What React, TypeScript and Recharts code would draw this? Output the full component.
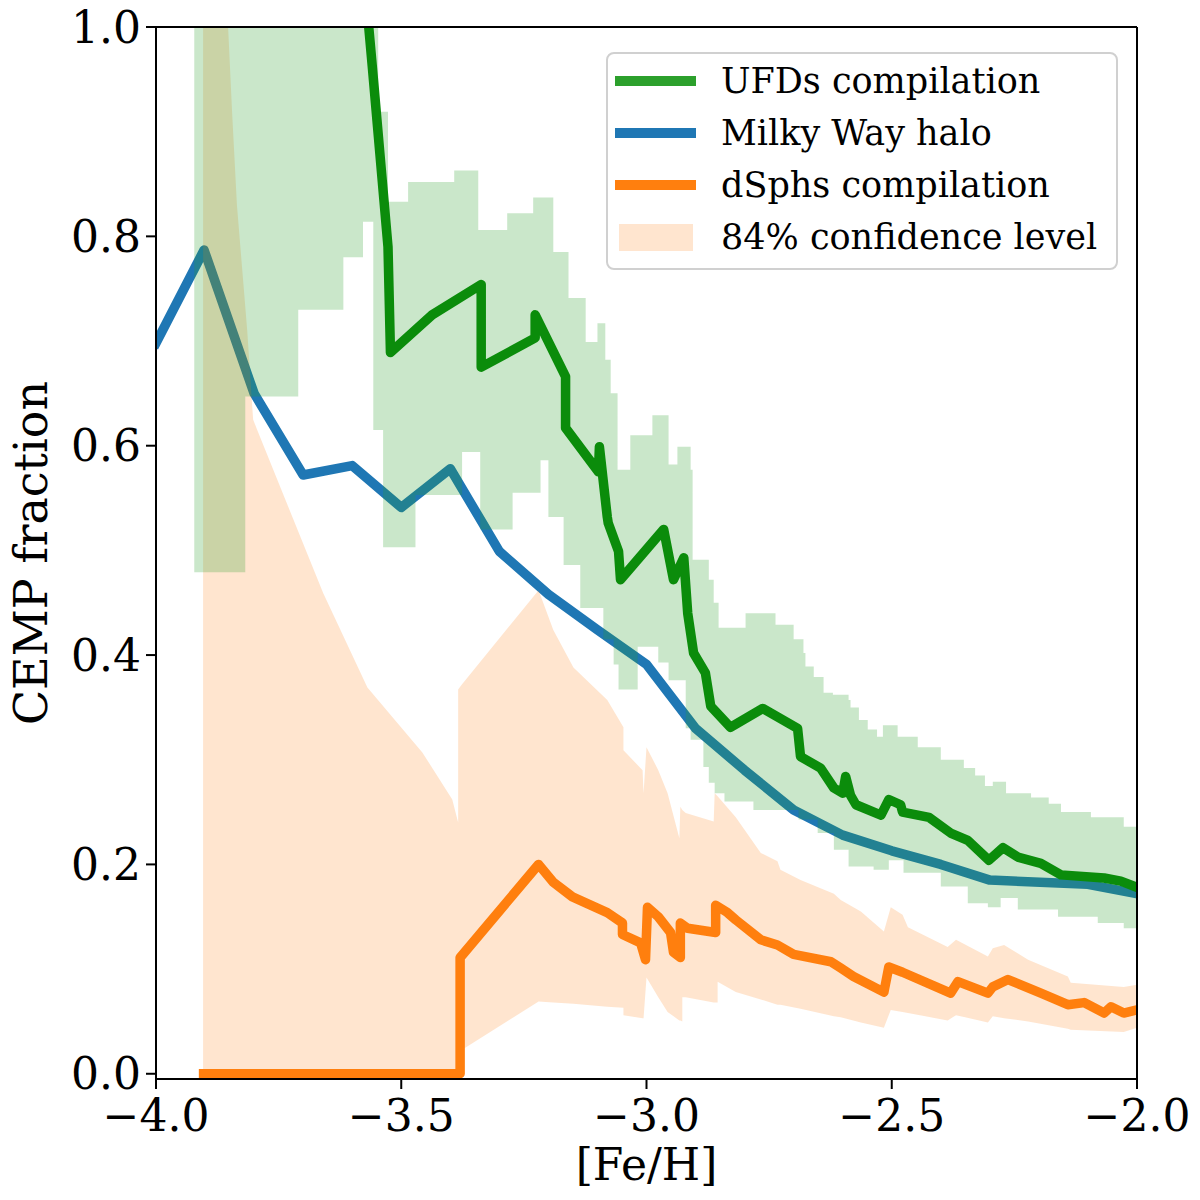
import React from 'react';
import { ComposedChart, Line, Area, XAxis, YAxis, Legend, Label, ReferenceLine } from 'recharts';

type P = [number, number];
type B = [number, number, number];

// Milky Way halo CEMP fraction
const haloValues: P[] = [
  [-4.0, 0.698], [-3.902, 0.787], [-3.8, 0.65], [-3.7, 0.572], [-3.6, 0.581],
  [-3.5, 0.541], [-3.4, 0.578], [-3.3, 0.499], [-3.2, 0.458], [-3.1, 0.424],
  [-3.0, 0.391], [-2.9, 0.33], [-2.8, 0.29], [-2.7, 0.252], [-2.6, 0.228],
  [-2.5, 0.213], [-2.4, 0.2], [-2.3, 0.185], [-2.1, 0.181], [-2.0, 0.172],
];

// UFDs compilation
const ufdValues: P[] = [
  [-3.572, 1.03], [-3.559, 0.962], [-3.527, 0.79], [-3.522, 0.689], [-3.437, 0.725],
  [-3.337, 0.754], [-3.337, 0.675], [-3.227, 0.703], [-3.227, 0.725], [-3.165, 0.666],
  [-3.165, 0.617], [-3.098, 0.575], [-3.096, 0.599], [-3.08, 0.532], [-3.078, 0.526],
  [-3.057, 0.499], [-3.053, 0.472], [-2.965, 0.52], [-2.945, 0.472], [-2.924, 0.493],
  [-2.916, 0.44], [-2.904, 0.402], [-2.88, 0.383], [-2.869, 0.351], [-2.829, 0.331],
  [-2.763, 0.349], [-2.692, 0.33], [-2.686, 0.303], [-2.645, 0.292], [-2.618, 0.273],
  [-2.6, 0.268], [-2.594, 0.284], [-2.584, 0.266], [-2.573, 0.257], [-2.522, 0.247],
  [-2.506, 0.262], [-2.482, 0.257], [-2.478, 0.25], [-2.424, 0.245], [-2.38, 0.23],
  [-2.345, 0.223], [-2.302, 0.204], [-2.273, 0.216], [-2.243, 0.207], [-2.196, 0.201],
  [-2.155, 0.19], [-2.067, 0.187], [-2.033, 0.184], [-2.0, 0.178],
];

// dSphs compilation
const dsphValues: P[] = [
  [-3.903, 0], [-3.38, 0], [-3.38, 0.111], [-3.22, 0.2], [-3.19, 0.183],
  [-3.151, 0.169], [-3.08, 0.154], [-3.049, 0.144], [-3.049, 0.133], [-3.012, 0.125],
  [-3.002, 0.109], [-2.998, 0.159], [-2.976, 0.15], [-2.951, 0.135], [-2.945, 0.116],
  [-2.931, 0.111], [-2.931, 0.144], [-2.916, 0.139], [-2.859, 0.135], [-2.859, 0.161],
  [-2.835, 0.154], [-2.818, 0.147], [-2.767, 0.128], [-2.733, 0.123], [-2.7, 0.114],
  [-2.624, 0.107], [-2.604, 0.101], [-2.578, 0.093], [-2.516, 0.078], [-2.506, 0.102],
  [-2.478, 0.097], [-2.38, 0.077], [-2.365, 0.088], [-2.304, 0.077], [-2.294, 0.083],
  [-2.263, 0.09], [-2.196, 0.077], [-2.141, 0.066], [-2.108, 0.068], [-2.067, 0.058],
  [-2.053, 0.064], [-2.027, 0.058], [-2.0, 0.061],
];

// UFDs band: [Fe/H], lower, upper (step after)
const ufdBandValues: B[] = [
  [-3.922, 0.479, 1.0], [-3.818, 0.647, 1.0], [-3.71, 0.73, 1.0], [-3.618, 0.78, 1.0],
  [-3.578, 0.814, 1.0], [-3.557, 0.615, 1.0], [-3.547, 0.615, 0.919], [-3.537, 0.503, 0.919],
  [-3.527, 0.503, 0.833], [-3.486, 0.503, 0.852], [-3.471, 0.553, 0.852], [-3.392, 0.553, 0.863],
  [-3.376, 0.594, 0.863], [-3.343, 0.594, 0.806], [-3.339, 0.52, 0.806], [-3.284, 0.52, 0.822],
  [-3.273, 0.555, 0.822], [-3.231, 0.555, 0.837], [-3.216, 0.586, 0.837], [-3.2, 0.532, 0.837],
  [-3.19, 0.532, 0.785], [-3.169, 0.486, 0.785], [-3.159, 0.486, 0.741], [-3.135, 0.445, 0.741],
  [-3.124, 0.445, 0.699], [-3.1, 0.445, 0.717], [-3.088, 0.415, 0.717], [-3.084, 0.415, 0.682],
  [-3.073, 0.415, 0.65], [-3.067, 0.391, 0.65], [-3.059, 0.391, 0.577], [-3.057, 0.367, 0.577],
  [-3.033, 0.367, 0.61], [-3.018, 0.408, 0.61], [-2.988, 0.408, 0.629], [-2.976, 0.393, 0.629],
  [-2.955, 0.376, 0.582], [-2.937, 0.376, 0.599], [-2.92, 0.33, 0.599], [-2.91, 0.319, 0.577],
  [-2.906, 0.319, 0.491], [-2.884, 0.293, 0.491], [-2.873, 0.278, 0.472], [-2.863, 0.278, 0.45],
  [-2.861, 0.268, 0.45], [-2.853, 0.268, 0.426], [-2.841, 0.26, 0.426], [-2.798, 0.26, 0.44],
  [-2.782, 0.252, 0.44], [-2.737, 0.252, 0.429], [-2.7, 0.252, 0.415], [-2.69, 0.243, 0.415],
  [-2.68, 0.243, 0.402], [-2.676, 0.243, 0.389], [-2.659, 0.243, 0.379], [-2.651, 0.23, 0.379],
  [-2.639, 0.23, 0.364], [-2.62, 0.23, 0.362], [-2.618, 0.214, 0.362], [-2.588, 0.198, 0.357],
  [-2.584, 0.198, 0.35], [-2.567, 0.198, 0.338], [-2.549, 0.198, 0.329], [-2.537, 0.195, 0.329],
  [-2.53, 0.195, 0.322], [-2.518, 0.195, 0.333], [-2.506, 0.204, 0.333], [-2.488, 0.204, 0.322],
  [-2.476, 0.192, 0.322], [-2.447, 0.192, 0.312], [-2.4, 0.179, 0.3], [-2.353, 0.179, 0.292],
  [-2.345, 0.163, 0.292], [-2.33, 0.163, 0.285], [-2.31, 0.163, 0.275], [-2.304, 0.159, 0.275],
  [-2.294, 0.159, 0.279], [-2.278, 0.168, 0.279], [-2.267, 0.168, 0.268], [-2.243, 0.157, 0.268],
  [-2.216, 0.157, 0.264], [-2.18, 0.157, 0.258], [-2.161, 0.15, 0.258], [-2.155, 0.15, 0.25],
  [-2.094, 0.15, 0.245], [-2.08, 0.144, 0.245], [-2.027, 0.139, 0.236], [-2.0, 0.139, 0.236],
];

// dSphs 84% confidence band: [Fe/H], lower, upper (linear)
const dsphBandValues: B[] = [
  [-3.904, 0, 1.0], [-3.853, 0, 1.0], [-3.845, 0, 0.92], [-3.835, 0, 0.83], [-3.814, 0, 0.71],
  [-3.802, 0, 0.625], [-3.792, 0, 0.613], [-3.659, 0, 0.459], [-3.569, 0, 0.369], [-3.457, 0, 0.307],
  [-3.396, 0, 0.262], [-3.384, 0, 0.24], [-3.384, 0, 0.367], [-3.378, 0.02, 0.371], [-3.376, 0.023, 0.372],
  [-3.22, 0.069, 0.462], [-3.19, 0.068, 0.424], [-3.149, 0.067, 0.388], [-3.08, 0.064, 0.357],
  [-3.047, 0.063, 0.331], [-3.047, 0.056, 0.309], [-3.008, 0.053, 0.29], [-3.006, 0.053, 0.268],
  [-3.0, 0.092, 0.312], [-2.976, 0.073, 0.29], [-2.957, 0.059, 0.268], [-2.933, 0.051, 0.225],
  [-2.931, 0.051, 0.255], [-2.927, 0.05, 0.252], [-2.927, 0.073, 0.252], [-2.92, 0.073, 0.249],
  [-2.863, 0.068, 0.241], [-2.861, 0.068, 0.268], [-2.855, 0.068, 0.265], [-2.855, 0.088, 0.265],
  [-2.818, 0.078, 0.245], [-2.767, 0.071, 0.211], [-2.733, 0.066, 0.203], [-2.727, 0.066, 0.195],
  [-2.686, 0.062, 0.185], [-2.618, 0.055, 0.172], [-2.604, 0.054, 0.166], [-2.563, 0.049, 0.155],
  [-2.516, 0.044, 0.136], [-2.502, 0.061, 0.159], [-2.478, 0.059, 0.152], [-2.467, 0.058, 0.14],
  [-2.386, 0.051, 0.121], [-2.369, 0.056, 0.128], [-2.304, 0.049, 0.112], [-2.294, 0.055, 0.12],
  [-2.271, 0.053, 0.123], [-2.222, 0.05, 0.109], [-2.141, 0.043, 0.093], [-2.135, 0.042, 0.087],
  [-2.027, 0.04, 0.083], [-2.0, 0.044, 0.085],
];

const xTicks = [-4, -3.5, -3, -2.5, -2];
const yTicks = [0, 0.2, 0.4, 0.6, 0.8, 1.0];

const legendItems = [
  { label: 'UFDs compilation', color: '#2ca02c', kind: 'line' },
  { label: 'Milky Way halo', color: '#1f77b4', kind: 'line' },
  { label: 'dSphs compilation', color: '#ff7f0e', kind: 'line' },
  { label: '84% confidence level', color: '#ffe5cf', kind: 'patch' },
];

const FONT = '"DejaVu Serif", serif';

const toLine = (a: P[]) => a.map(([x, y]) => ({ x, y }));
const toBand = (a: B[]) => a.map(([x, lo, hi]) => ({ x, range: [lo, hi] }));

const halo = toLine(haloValues);
const ufd = toLine(ufdValues);
const dsph = toLine(dsphValues);
const ufdBand = toBand(ufdBandValues);
const dsphBand = toBand(dsphBandValues);

const fmt = (v: number) => (v < 0 ? '\u2212' : '') + Math.abs(v).toFixed(1);

const tickStyle = { fontSize: 44, fontFamily: FONT, fill: '#000' };
const LW = 9.5;

const LegendBox = () => (
  <div
    style={{
      boxSizing: 'border-box',
      width: 512,
      height: 218,
      border: '2px solid #d0d0d0',
      borderRadius: 8,
      background: 'rgba(255,255,255,0.8)',
      padding: '1px 0 5px 0',
      fontFamily: FONT,
      fontSize: 35,
      color: '#000',
    }}
  >
    {legendItems.map((it) => (
      <div key={it.label} style={{ display: 'flex', alignItems: 'center', height: 52 }}>
        <div style={{ width: 81, marginLeft: 7, marginRight: 25, display: 'flex', justifyContent: 'center', alignItems: 'center' }}>
          {it.kind === 'line' ? (
            <div style={{ width: 81, height: 10, background: it.color }} />
          ) : (
            <div style={{ width: 74, height: 27, background: it.color }} />
          )}
        </div>
        <span style={{ whiteSpace: 'nowrap', lineHeight: '52px' }}>{it.label}</span>
      </div>
    ))}
  </div>
);

export default function App() {
  return (
    <div style={{ position: 'absolute', left: 0, top: 0, width: 1200, height: 1200, background: '#fff' }}>
      <ComposedChart width={1200} height={1200} margin={{ top: 27, right: 63, bottom: 0, left: 26 }}>
        <XAxis
          dataKey="x"
          type="number"
          domain={[-4, -2]}
          allowDataOverflow
          ticks={xTicks}
          interval={0}
          tickFormatter={fmt}
          height={121}
          tickSize={10}
          tickMargin={11}
          tick={tickStyle}
          axisLine={{ stroke: '#000', strokeWidth: 2 }}
          tickLine={{ stroke: '#000', strokeWidth: 2 }}
        >
          <Label
            content={(props: any) => {
              const vb = props.viewBox || {};
              return (
                <text x={vb.x + vb.width / 2} y={vb.y + 101} textAnchor="middle" fontSize={44} fontFamily={FONT} fill="#000">
                  [Fe/H]
                </text>
              );
            }}
          />
        </XAxis>
        <YAxis
          type="number"
          domain={[-0.005, 1]}
          allowDataOverflow
          ticks={yTicks}
          interval={0}
          tickFormatter={(v: number) => v.toFixed(1)}
          width={130}
          tickSize={10}
          tickMargin={5}
          tick={tickStyle}
          axisLine={{ stroke: '#000', strokeWidth: 2 }}
          tickLine={{ stroke: '#000', strokeWidth: 2 }}
        >
          <Label
            content={(props: any) => {
              const vb = props.viewBox || {};
              const cx = vb.x + 21;
              const cy = vb.y + vb.height / 2;
              return (
                <text x={cx} y={cy} transform={`rotate(-90, ${cx}, ${cy})`} textAnchor="middle" fontSize={46} fontFamily={FONT} fill="#000">
                  CEMP fraction
                </text>
              );
            }}
          />
        </YAxis>

        <Line
          data={halo}
          dataKey="y"
          type="linear"
          stroke="#1f77b4"
          strokeWidth={LW}
          strokeLinejoin="round"
          strokeLinecap="square"
          dot={false}
          activeDot={false}
          isAnimationActive={false}
          zIndex={101}
        />
        <Area
          data={dsphBand}
          dataKey="range"
          type="linear"
          stroke="none"
          fill="#ff7f0e"
          fillOpacity={0.2}
          dot={false}
          activeDot={false}
          isAnimationActive={false}
          zIndex={102}
        />
        <Area
          data={ufdBand}
          dataKey="range"
          type="stepAfter"
          stroke="none"
          fill="#2ca02c"
          fillOpacity={0.25}
          dot={false}
          activeDot={false}
          isAnimationActive={false}
          zIndex={103}
        />
        <Line
          data={ufd}
          dataKey="y"
          type="linear"
          stroke="#0b8c0b"
          strokeWidth={LW}
          strokeLinejoin="round"
          strokeLinecap="square"
          dot={false}
          activeDot={false}
          isAnimationActive={false}
          zIndex={104}
        />
        <Line
          data={dsph}
          dataKey="y"
          type="linear"
          stroke="#ff7f0e"
          strokeWidth={LW}
          strokeLinejoin="round"
          strokeLinecap="square"
          dot={false}
          activeDot={false}
          isAnimationActive={false}
          zIndex={105}
        />
        <ReferenceLine y={1} stroke="#000" strokeWidth={2} ifOverflow="extendDomain" zIndex={600} />
        <ReferenceLine x={-2} stroke="#000" strokeWidth={2} ifOverflow="extendDomain" zIndex={600} />
        <Legend
          layout="vertical"
          align="center"
          verticalAlign="middle"
          content={() => <LegendBox />}
          wrapperStyle={{ position: 'absolute', left: 606, top: 52, width: 512, height: 218, margin: 0, padding: 0 }}
        />
      </ComposedChart>
    </div>
  );
}
